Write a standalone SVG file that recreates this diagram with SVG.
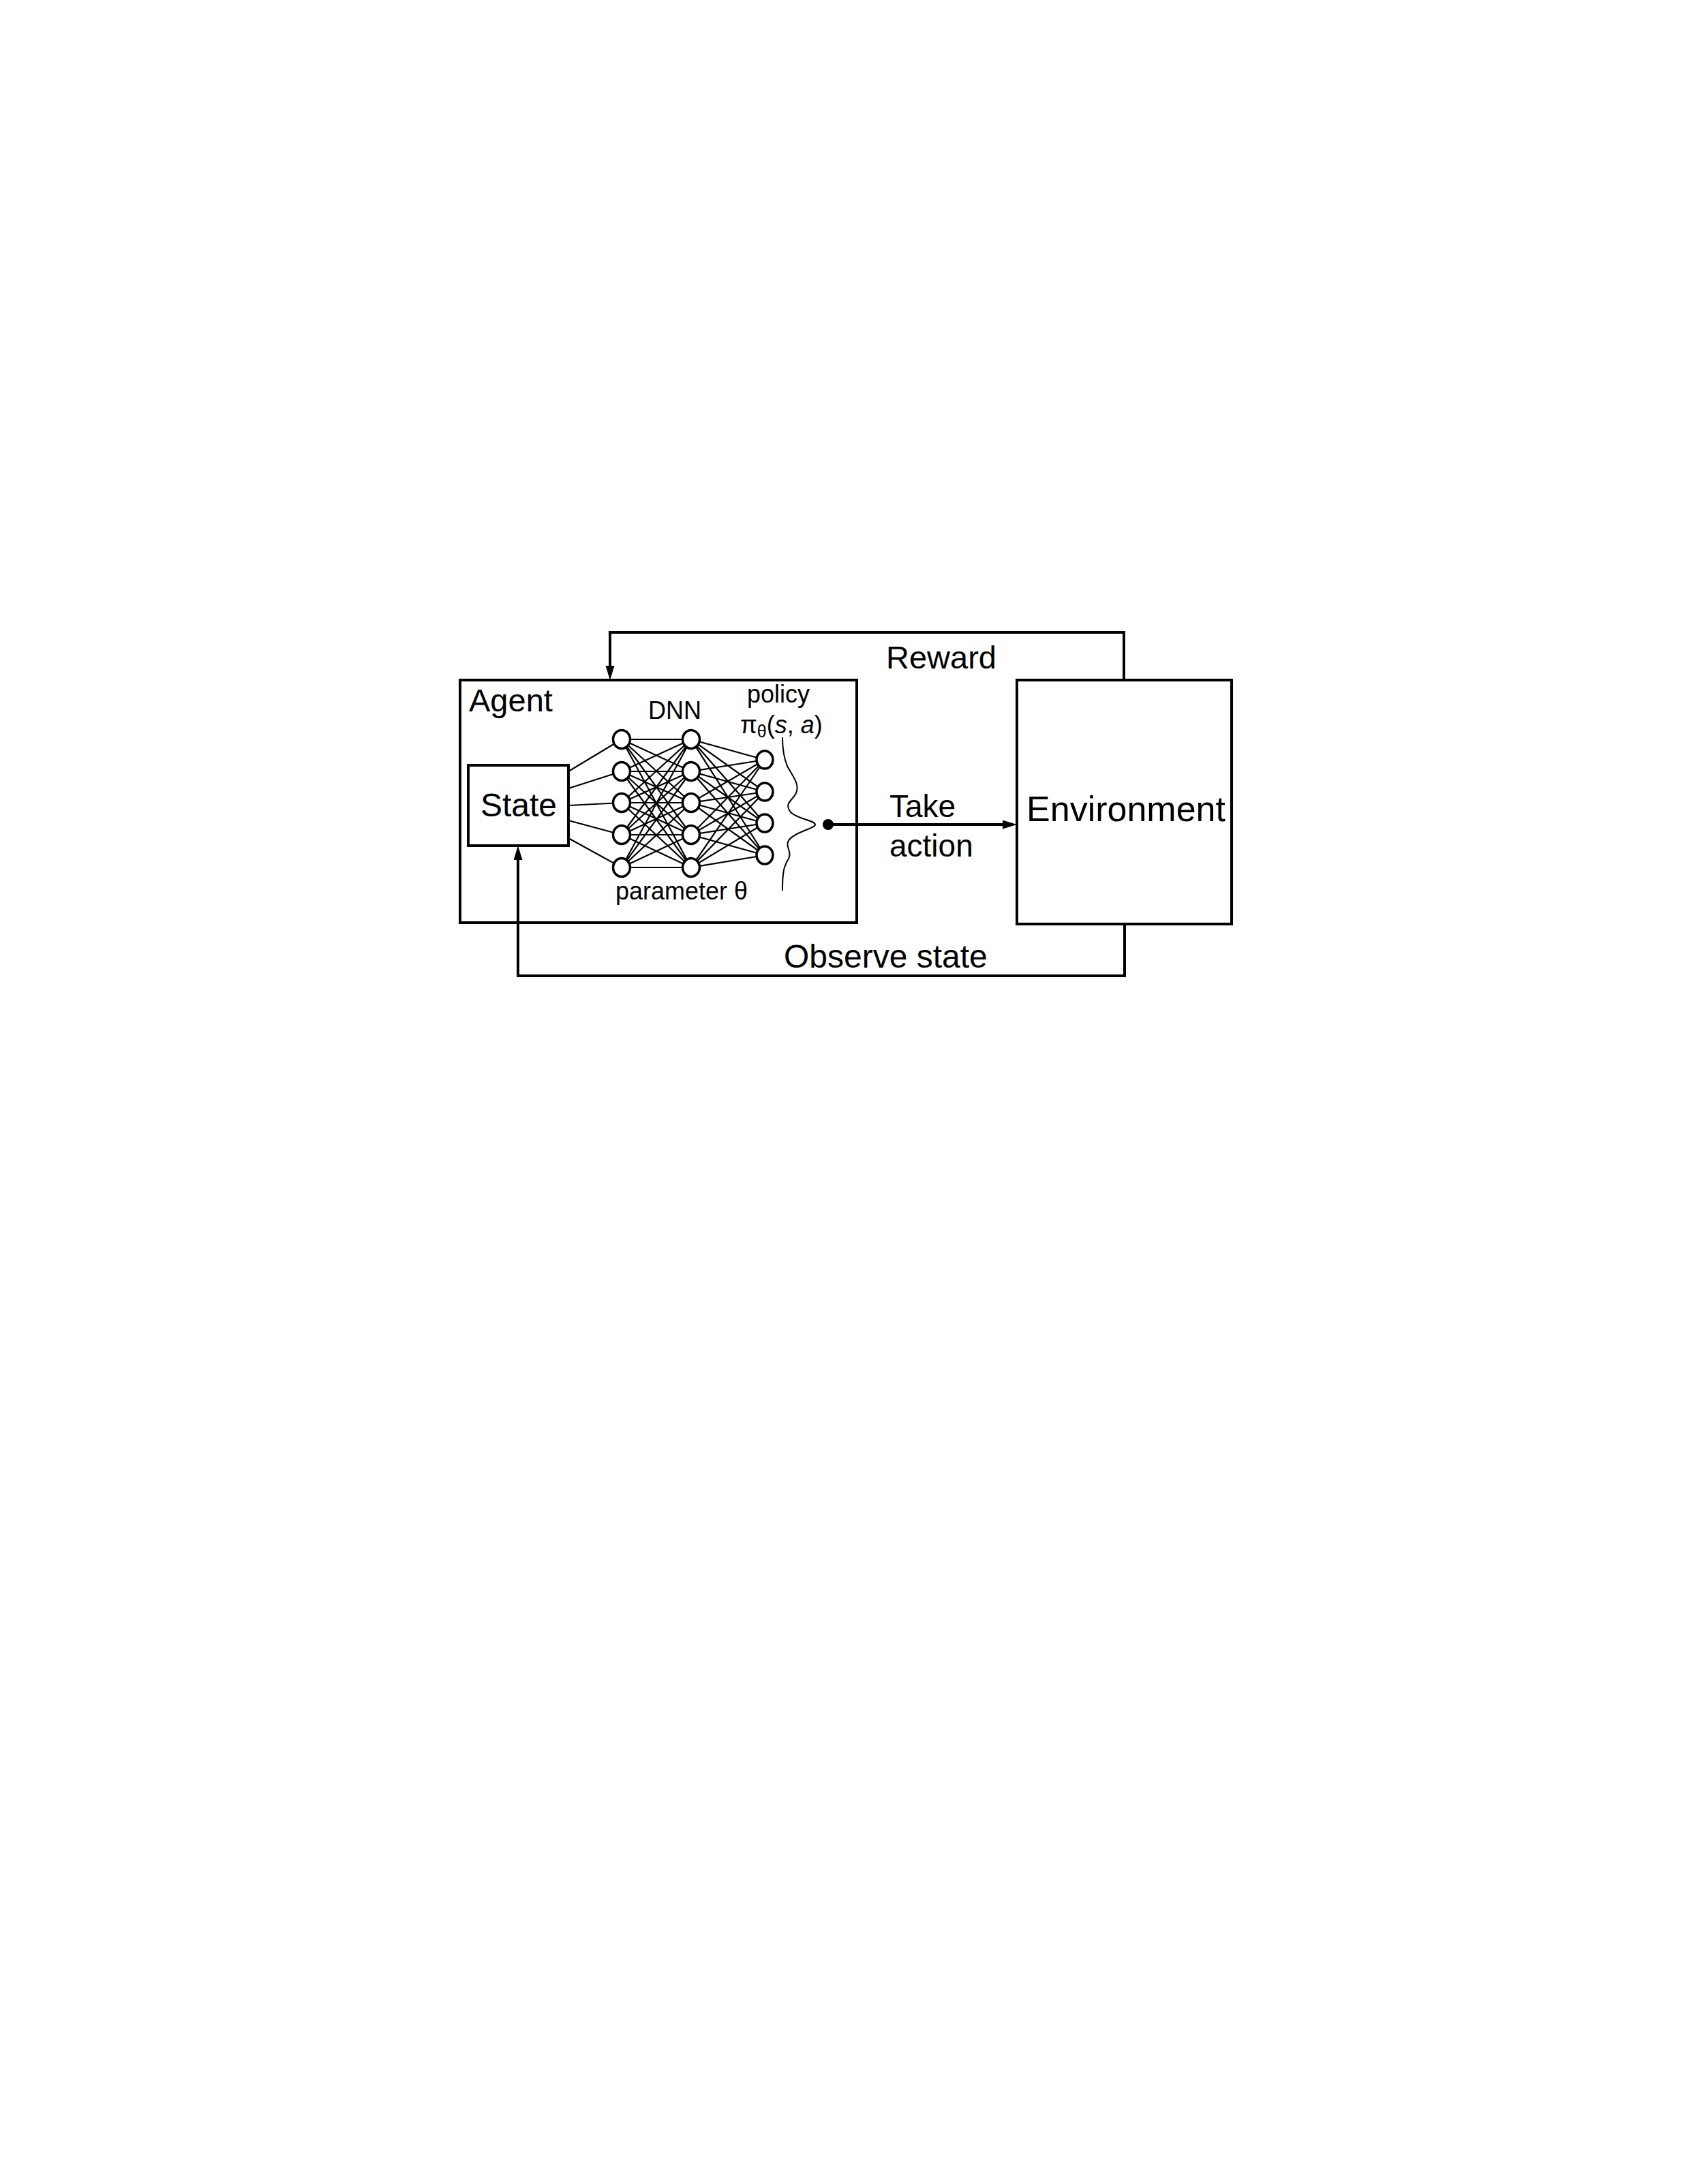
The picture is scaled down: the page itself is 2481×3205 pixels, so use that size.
<svg xmlns="http://www.w3.org/2000/svg" width="2481" height="3205" viewBox="0 0 2481 3205">
<style>
text{font-family:"Liberation Sans",Arial,sans-serif;fill:#000}
.box{fill:none;stroke:#000;stroke-width:4;stroke-linejoin:miter}
.conn{fill:none;stroke:#000;stroke-width:4;stroke-linejoin:miter}
.edge{fill:none;stroke:#000;stroke-width:2.2}
.nd{fill:#fff;stroke:#000;stroke-width:3.5}
.big{font-size:47px}
.small{font-size:36px}
</style>
<defs>
<marker id="ah" markerUnits="userSpaceOnUse" markerWidth="22" markerHeight="14" refX="0" refY="6.5" orient="auto">
<path d="M0,0 L21,6.5 L0,13 z" fill="#000"/>
</marker>
</defs>
<rect width="2481" height="3205" fill="#fff"/>

<g id="agent">
<rect class="box" x="675" y="998" width="582" height="356"/>
<text class="big" x="688" y="1044">Agent</text>
</g>

<g id="state">
<rect class="box" x="687" y="1123" width="147" height="118"/>
<text x="761" y="1198" font-size="48" text-anchor="middle">State</text>
</g>

<g id="environment">
<rect class="box" x="1492" y="998" width="315" height="358"/>
<text x="1652" y="1205" font-size="52" text-anchor="middle">Environment</text>
</g>

<g id="dnn">
<text class="small" x="951" y="1055">DNN</text>
<text class="small" x="903" y="1320">parameter θ</text>
<g id="nn-edges">
<path class="edge" d="M834 1132L912 1085M834 1157L912 1132M834 1182L912 1178M834 1204L912 1225M834 1230L912 1273
M912 1085L1014 1085M912 1085L1014 1132M912 1085L1014 1178M912 1085L1014 1225M912 1085L1014 1273
M912 1132L1014 1085M912 1132L1014 1132M912 1132L1014 1178M912 1132L1014 1225M912 1132L1014 1273
M912 1178L1014 1085M912 1178L1014 1132M912 1178L1014 1178M912 1178L1014 1225M912 1178L1014 1273
M912 1225L1014 1085M912 1225L1014 1132M912 1225L1014 1178M912 1225L1014 1225M912 1225L1014 1273
M912 1273L1014 1085M912 1273L1014 1132M912 1273L1014 1178M912 1273L1014 1225M912 1273L1014 1273
M1014 1085L1122 1115M1014 1085L1122 1162M1014 1085L1122 1208M1014 1085L1122 1255
M1014 1132L1122 1115M1014 1132L1122 1162M1014 1132L1122 1208M1014 1132L1122 1255
M1014 1178L1122 1115M1014 1178L1122 1162M1014 1178L1122 1208M1014 1178L1122 1255
M1014 1225L1122 1115M1014 1225L1122 1162M1014 1225L1122 1208M1014 1225L1122 1255
M1014 1273L1122 1115M1014 1273L1122 1162M1014 1273L1122 1208M1014 1273L1122 1255"/>
</g>
<g id="input-layer">
<ellipse class="nd" cx="912" cy="1085" rx="12.5" ry="13.5"/>
<ellipse class="nd" cx="912" cy="1132" rx="12.5" ry="13.5"/>
<ellipse class="nd" cx="912" cy="1178" rx="12.5" ry="13.5"/>
<ellipse class="nd" cx="912" cy="1225" rx="12.5" ry="13.5"/>
<ellipse class="nd" cx="912" cy="1273" rx="12.5" ry="13.5"/>
</g>
<g id="hidden-layer">
<ellipse class="nd" cx="1014" cy="1085" rx="12.5" ry="13.5"/>
<ellipse class="nd" cx="1014" cy="1132" rx="12.5" ry="13.5"/>
<ellipse class="nd" cx="1014" cy="1178" rx="12.5" ry="13.5"/>
<ellipse class="nd" cx="1014" cy="1225" rx="12.5" ry="13.5"/>
<ellipse class="nd" cx="1014" cy="1273" rx="12.5" ry="13.5"/>
</g>
<g id="output-layer">
<ellipse class="nd" cx="1122" cy="1115" rx="12" ry="13"/>
<ellipse class="nd" cx="1122" cy="1162" rx="12" ry="13"/>
<ellipse class="nd" cx="1122" cy="1208" rx="12" ry="13"/>
<ellipse class="nd" cx="1122" cy="1255" rx="12" ry="13"/>
</g>
</g>

<g id="policy">
<text class="small" x="1096" y="1031">policy</text>
<text class="small" x="1086" y="1076">π<tspan font-size="25" dy="6">θ</tspan><tspan dy="-6">(</tspan><tspan font-style="italic">s</tspan>, <tspan font-style="italic">a</tspan>)</text>
<path fill="none" stroke="#000" stroke-width="2" d="M1148 1082 C1148 1100,1150 1112,1155 1124 C1162 1138,1174 1150,1168 1164 C1162 1176,1150 1178,1160 1192 C1170 1202,1196 1204,1196 1210 C1196 1216,1168 1220,1158 1232 C1150 1242,1164 1250,1156 1262 C1150 1272,1148 1280,1148 1307"/>
</g>

<g id="connectors">
<path class="conn" d="M1649 998 V928 H895 V977" marker-end="url(#ah)"/>
<path class="conn" d="M1650 1356 V1432 H760 V1262" marker-end="url(#ah)"/>
<circle cx="1215" cy="1210" r="8" fill="#000"/>
<path class="conn" d="M1215 1210 H1471" marker-end="url(#ah)"/>
</g>

<g id="labels">
<text class="big" x="1300" y="981">Reward</text>
<text font-size="46" x="1305" y="1199">Take</text>
<text font-size="46" x="1305" y="1257">action</text>
<text font-size="48" x="1150" y="1420">Observe state</text>
</g>
</svg>
